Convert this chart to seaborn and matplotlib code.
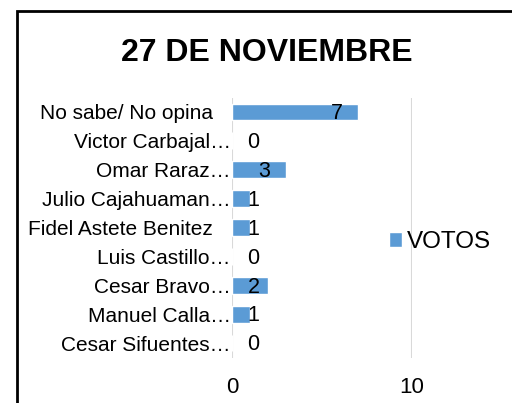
import matplotlib
matplotlib.use("Agg")
import matplotlib.pyplot as plt
import matplotlib.patches as patches
import pandas as pd
import seaborn as sns

# Chart data
CANDIDATOS = ["No sabe/ No opina", "Victor Carbajal\u2026", "Omar Raraz\u2026",
              "Julio Cajahuaman\u2026", "Fidel Astete Benitez", "Luis Castillo\u2026",
              "Cesar Bravo\u2026", "Manuel Calla\u2026", "Cesar Sifuentes\u2026"]
VOTOS = [7, 0, 3, 1, 1, 0, 2, 1, 0]
X_TICKS = [0, 10]
TITLE = "27 DE NOVIEMBRE"
SERIES = "VOTOS"

BAR_COLOR = "#5B9BD5"
GRID_COLOR = "#D9D9D9"

sns.set_style("white")
plt.rcParams["font.family"] = ["Liberation Sans", "DejaVu Sans"]
plt.rcParams["text.color"] = "black"
plt.rcParams["xtick.color"] = "black"
plt.rcParams["ytick.color"] = "black"

data = pd.DataFrame({"candidato": CANDIDATOS, "votos": VOTOS})

fig = plt.figure(figsize=(5.12, 4.03), dpi=100)
ax = fig.add_axes([232 / 512, 1 - 357.5 / 403, 180 / 512, 260 / 403])

sns.barplot(data=data, x="votos", y="candidato", orient="h", color=BAR_COLOR,
            width=0.58, saturation=1, label=SERIES, ax=ax, zorder=3)

ax.set_xlim(0, 10)
ax.set_xticks(X_TICKS)
ax.set_xlabel("")
ax.set_ylabel("")
ax.grid(axis="x", color=GRID_COLOR, linewidth=1.5, zorder=0)
ax.grid(axis="y", visible=False)
for side in ax.spines.values():
    side.set_visible(False)
ax.tick_params(axis="both", length=0, colors="black")
ax.tick_params(axis="x", labelsize=16, pad=14)
ax.tick_params(axis="y", labelsize=15)

# full labels sit further from the axis than truncated ones
for tick, name in zip(ax.yaxis.get_major_ticks(), CANDIDATOS):
    tick.set_pad(1 if name.endswith("\u2026") else 14)

# value labels
for i, v in enumerate(VOTOS):
    ax.text(max(v - 1.2, 1.2), i + 0.06, str(v), ha="center", va="center",
            fontsize=15.5, color="black", zorder=4)

if ax.legend_ is not None:
    ax.legend_.remove()
handles, labels = ax.get_legend_handles_labels()
fig.legend(handles, labels, loc="center left", bbox_to_anchor=(389 / 512, 1 - 242 / 403),
           frameon=False, fontsize=17.5, handlelength=0.55, handleheight=0.55,
           handletextpad=0.2, borderpad=0, borderaxespad=0)

fig.text(267 / 512, 1 - 53 / 403, TITLE, ha="center", va="center",
         fontsize=23, fontweight="bold", color="black")

# chart frame (cut off at right and bottom)
fig.patches.append(patches.Rectangle((16.5 / 512, -0.2), 2, 1.2 - 10.5 / 403,
                                     transform=fig.transFigure, fill=False,
                                     edgecolor="black", linewidth=2))

fig.savefig("out.png", dpi=100)
